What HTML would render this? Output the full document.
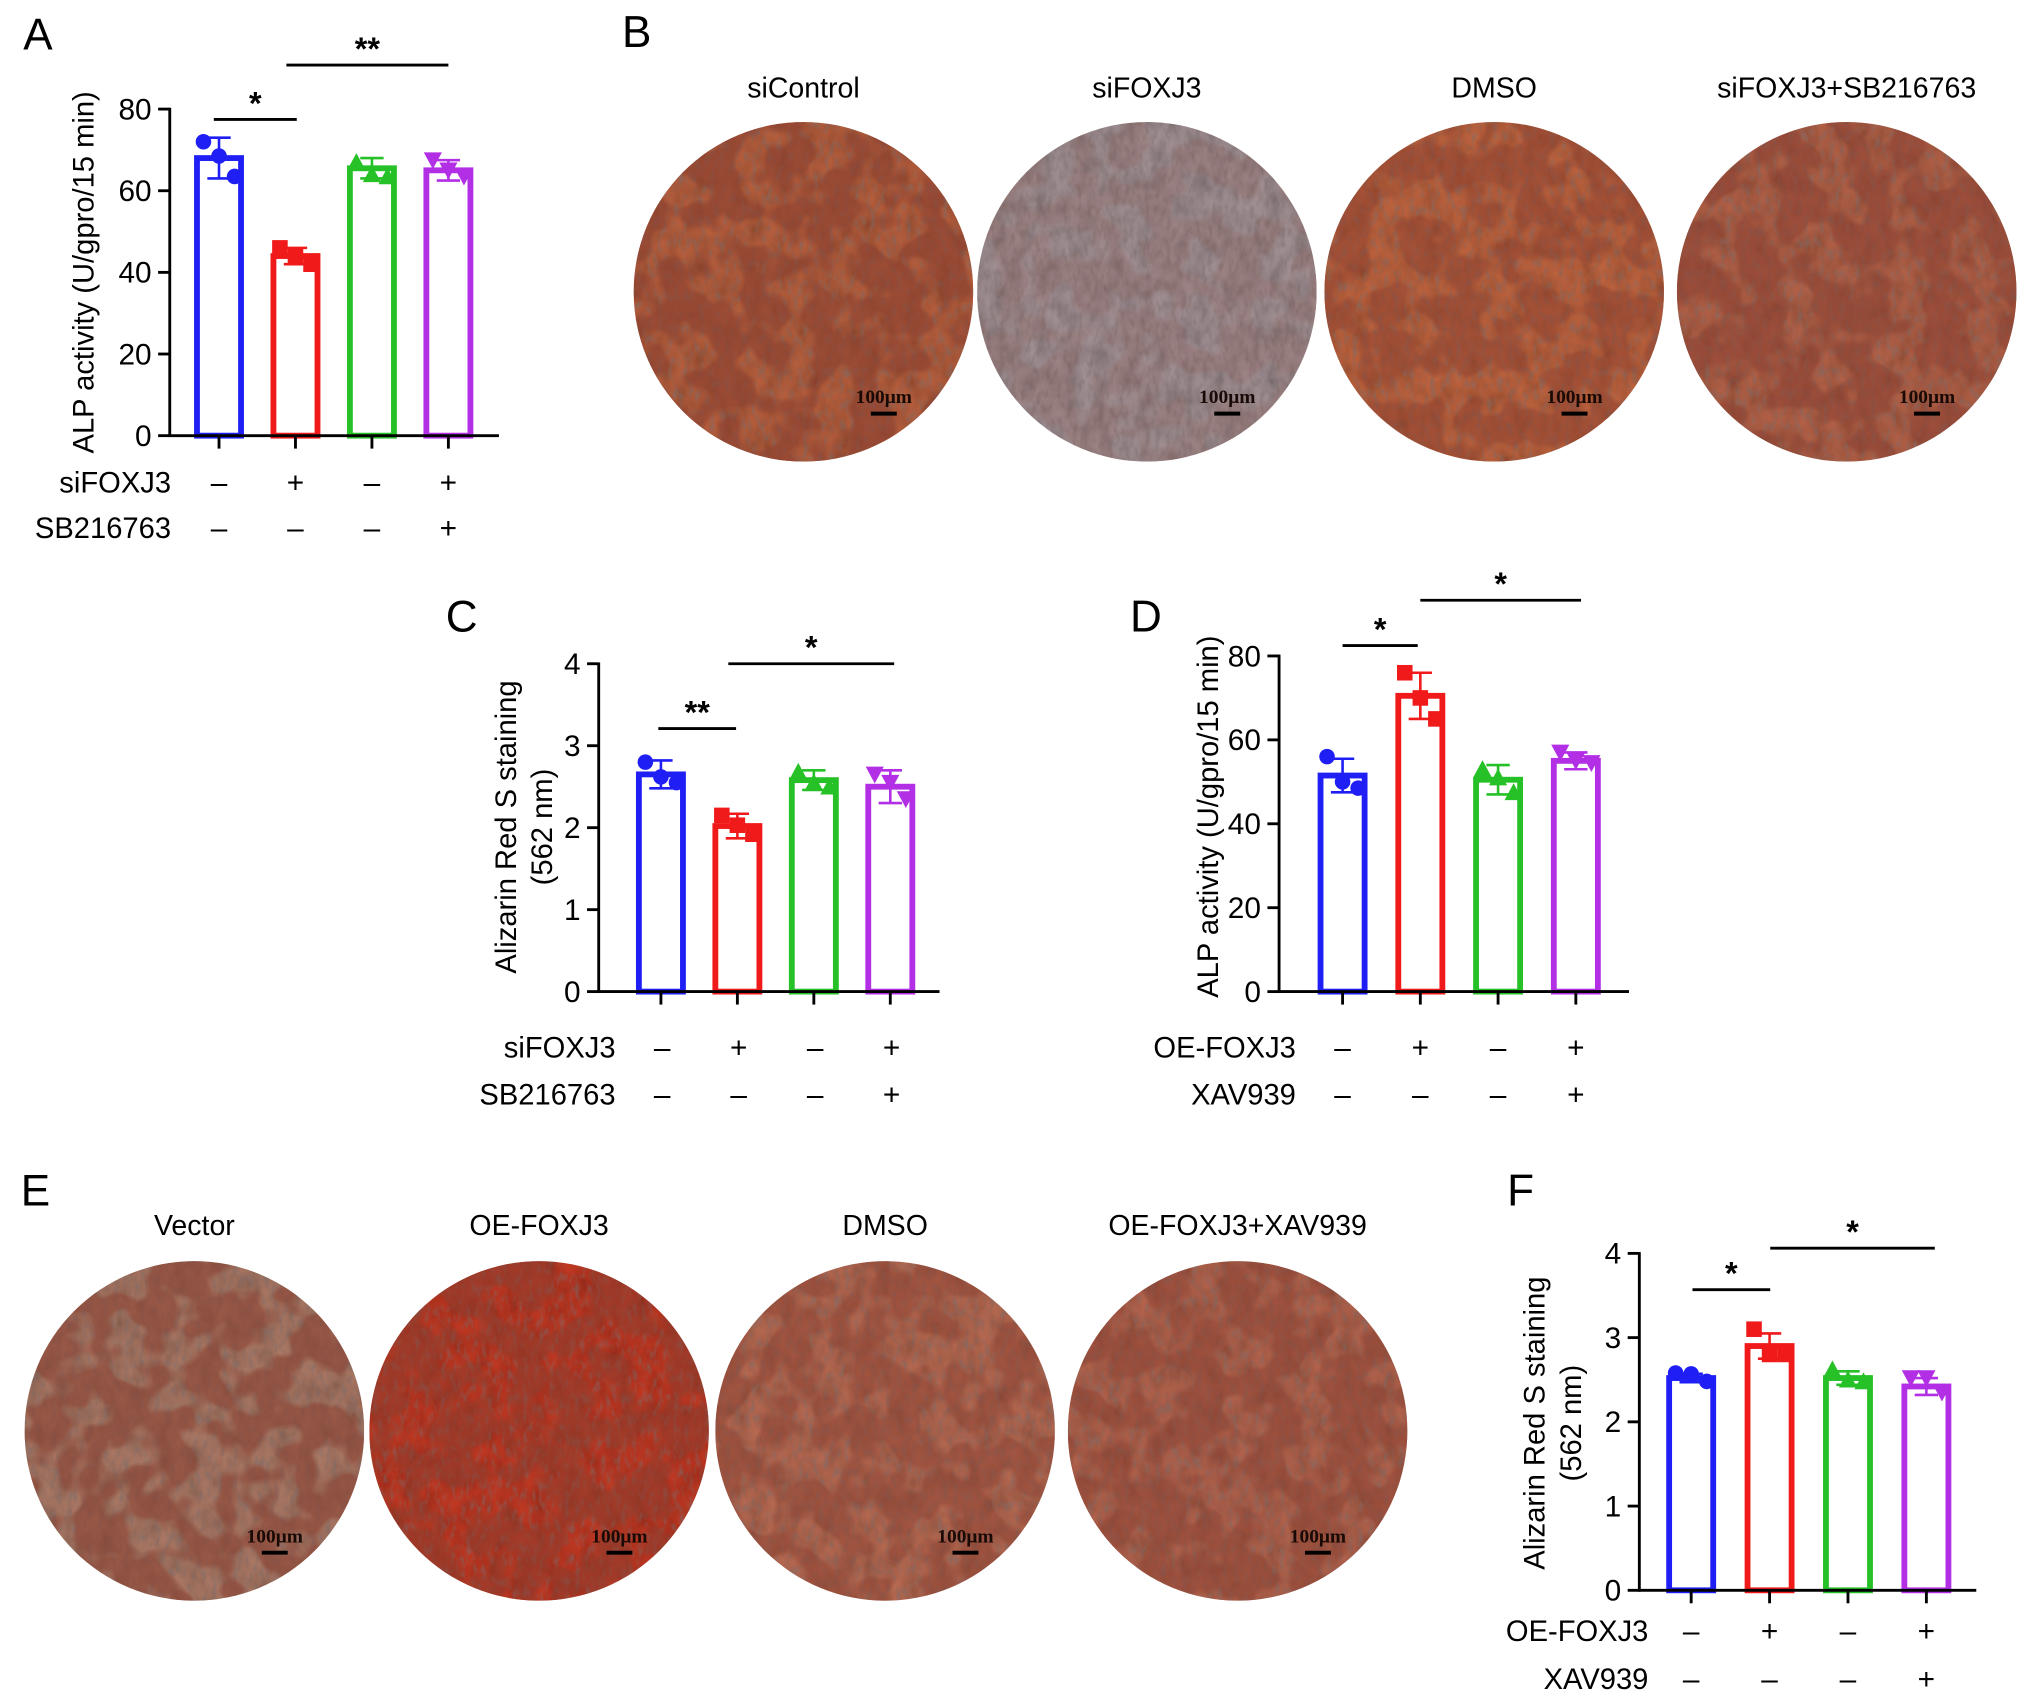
<!DOCTYPE html>
<html><head><meta charset="utf-8"><style>
html,body{margin:0;padding:0;background:#fff;}
svg{display:block;font-family:"Liberation Sans",Arial,sans-serif;}
</style></head><body>
<svg id="fig" width="2032" height="1702" viewBox="0 0 1568 1313" xmlns="http://www.w3.org/2000/svg">
<defs>
<filter id="tex" x="0" y="0" width="100%" height="100%">
<feTurbulence type="fractalNoise" baseFrequency="0.09 0.06" numOctaves="3" seed="3"/>
<feColorMatrix type="matrix" values="0 0 0 0.9 0  0 0 0 0.9 0  0 0 0 0.9 0  0 0 0 0 1"/>
<feComposite in2="SourceGraphic" operator="arithmetic" k1="1.2" k2="0" k3="0" k4="0"/>
</filter>
<filter id="spots" x="0" y="0" width="100%" height="100%">
<feTurbulence type="fractalNoise" baseFrequency="0.035" numOctaves="2" seed="9"/>
<feColorMatrix type="matrix" values="0 0 0 0 0.25  0 0 0 0 0.05  0 0 0 0 0.03  0 0 0 -9 5.2"/>
</filter>
<filter id="fine" x="0" y="0" width="100%" height="100%">
<feTurbulence type="fractalNoise" baseFrequency="0.25 0.12" numOctaves="2" seed="5"/>
<feColorMatrix type="matrix" values="0 0 0 0 0.2  0 0 0 0 0.15  0 0 0 0 0.15  0 0 0 -3 1.6"/>
</filter>
</defs>
<g id="micro"></g>
<g id="charts"></g>
</svg>
<script>
// ---- Chart data ----
const groups = ["g1","g2","g3","g4"];
const colors = ["#1f1ff5","#f01a1a","#26c027","#b22fe6"];
const shapes = ["circle","square","tri-up","tri-down"];

const aMeans = [68,44,65.5,65];
const aSD = [5,2,2.5,2.5];
const aPoints = [[72,68.5,63.5],[46,44,42],[67,64,63.5],[67.5,65,63.5]];
const aTicks = [0,20,40,60,80];

const cMeans = [2.65,2.02,2.58,2.5];
const cSD = [0.17,0.15,0.12,0.2];
const cPoints = [[2.8,2.62,2.55],[2.15,2.03,1.92],[2.68,2.55,2.5],[2.65,2.55,2.35]];
const cTicks = [0,1,2,3,4];

const dMeans = [51.5,70.5,50.5,55];
const dSD = [4,5.5,3.5,2];
const dPoints = [[56,50,48.5],[76,70,65],[53,51,47.5],[57,55,54.5]];
const dTicks = [0,20,40,60,80];

const fMeans = [2.52,2.9,2.52,2.42];
const fSD = [0.05,0.15,0.08,0.1];
const fPoints = [[2.58,2.57,2.48],[3.1,2.8,2.8],[2.62,2.5,2.48],[2.52,2.52,2.35]];
const fTicks = [0,1,2,3,4];

const NS="http://www.w3.org/2000/svg";
const charts=document.getElementById('charts');
function mk(tag,attrs,parent,text){const e=document.createElementNS(NS,tag);for(const k in attrs)e.setAttribute(k,attrs[k]);if(text!==undefined)e.textContent=text;(parent||charts).appendChild(e);return e;}

function chart(cfg){
  const g=mk('g',{});
  
  
  const y=v=>cfg.y0-(v-cfg.ymin)/(cfg.ymax-cfg.ymin)*(cfg.y0-cfg.y1);
  const x=i=>cfg.cx0+i*cfg.step;
  cfg.means.forEach((m,i)=>{
    const r=mk('rect',{x:x(i)-cfg.bw/2,y:y(m),width:cfg.bw,height:cfg.y0-y(m),fill:'#fff',stroke:colors[i],'stroke-width':4.5},g);
    
    
  });
  cfg.means.forEach((m,i)=>{
    const e=mk('g',{stroke:colors[i],'stroke-width':2},g);
    
    
    mk('line',{x1:x(i),x2:x(i),y1:y(m-cfg.sd[i]),y2:y(m+cfg.sd[i])},e);
    mk('line',{x1:x(i)-9,x2:x(i)+9,y1:y(m+cfg.sd[i]),y2:y(m+cfg.sd[i])},e);
    mk('line',{x1:x(i)-9,x2:x(i)+9,y1:y(m-cfg.sd[i]),y2:y(m-cfg.sd[i])},e);
  });
  cfg.points.forEach((arr,i)=>{
    arr.forEach((v,j)=>{
      const px=x(i)+(j-1)*12, py=y(v), s=6, c=colors[i];
      let p;
      if(shapes[i]==='circle') p=mk('circle',{cx:px,cy:py,r:s,fill:c},g);
      else if(shapes[i]==='square') p=mk('rect',{x:px-s,y:py-s,width:2*s,height:2*s,fill:c},g);
      else if(shapes[i]==='tri-up') p=mk('polygon',{points:`${px},${py-s-1} ${px-s-1},${py+s} ${px+s+1},${py+s}`,fill:c},g);
      else p=mk('polygon',{points:`${px},${py+s+1} ${px-s-1},${py-s} ${px+s+1},${py-s}`,fill:c},g);
      
      
    });
  });
  const ax=mk('g',{stroke:'#000','stroke-width':2.2},g);
  
  
  mk('line',{x1:cfg.ax,x2:cfg.ax,y1:y(cfg.ymax)-1,y2:cfg.y0+1},ax);
  mk('line',{x1:cfg.ax-1,x2:cfg.xend,y1:cfg.y0,y2:cfg.y0},ax);
  cfg.ticks.forEach(t=>{
    mk('line',{x1:cfg.ax-9,x2:cfg.ax,y1:y(t),y2:y(t)},ax);
    const tl=mk('text',{x:cfg.ax-14,y:y(t)+8,'text-anchor':'end','font-size':23},g,String(t));
    
    
  });
  cfg.means.forEach((m,i)=>mk('line',{x1:x(i),x2:x(i),y1:cfg.y0,y2:cfg.y0+10},ax));
  const tg=mk('g',{transform:`translate(${cfg.tx},${cfg.ty}) rotate(-90)`},g);
  cfg.title.forEach((t,k)=>{
    const tt=mk('text',{x:0,y:k*28,'text-anchor':'middle','font-size':22.5},tg,t);
    
    
  });
  cfg.rows.forEach((row,k)=>{
    const ry=cfg.rowY[k];
    const rl=mk('text',{x:cfg.rowLabelX,y:ry+8,'text-anchor':'end','font-size':22.5},g,row.label);
    
    
    row.signs.forEach((s,i)=>{
      const st=mk('text',{x:x(i)+cfg.signDx,y:ry+8,'text-anchor':'middle','font-size':23},g,s==='+'?'+':'\u2013');
      
      
    });
  });
  cfg.sig.forEach(s=>{
    const sg=mk('g',{},g);
    
    
    mk('line',{x1:s.x1,x2:s.x2,y1:s.y,y2:s.y,stroke:'#000','stroke-width':2.2},sg);
    mk('text',{x:(s.x1+s.x2)/2,y:s.y-4,'text-anchor':'middle','font-size':25,'font-weight':'bold'},sg,s.t);
  });
}

chart({name:'chart-a',means:aMeans,sd:aSD,points:aPoints,ticks:aTicks,ymin:0,ymax:80,y0:336,y1:84,ax:131,xend:385,cx0:169,step:59,bw:34,
  tx:72,ty:210,title:['ALP activity (U/gpro/15 min)'],rowLabelX:132,rowY:[372,407],signDx:0,
  rows:[{label:'siFOXJ3',signs:['-','+','-','+']},{label:'SB216763',signs:['-','-','-','+']}],
  sig:[{x1:165,x2:229,y:92,t:'*'},{x1:221,x2:346,y:50,t:'**'}]});
chart({name:'chart-c',means:cMeans,sd:cSD,points:cPoints,ticks:cTicks,ymin:0,ymax:4,y0:765,y1:512,ax:462,xend:725,cx0:510,step:59,bw:34,
  tx:398,ty:638,title:['Alizarin Red S staining','(562 nm)'],rowLabelX:475,rowY:[808,844],signDx:1,
  rows:[{label:'siFOXJ3',signs:['-','+','-','+']},{label:'SB216763',signs:['-','-','-','+']}],
  sig:[{x1:508,x2:568,y:562,t:'**'},{x1:562,x2:690,y:512,t:'*'}]});
chart({name:'chart-d',means:dMeans,sd:dSD,points:dPoints,ticks:dTicks,ymin:0,ymax:80,y0:765,y1:506,ax:987,xend:1257,cx0:1036,step:60,bw:34,
  tx:940,ty:630,title:['ALP activity (U/gpro/15 min)'],rowLabelX:1000,rowY:[808,844],signDx:0,
  rows:[{label:'OE-FOXJ3',signs:['-','+','-','+']},{label:'XAV939',signs:['-','-','-','+']}],
  sig:[{x1:1036,x2:1094,y:498,t:'*'},{x1:1096,x2:1220,y:463,t:'*'}]});
chart({name:'chart-f',means:fMeans,sd:fSD,points:fPoints,ticks:fTicks,ymin:0,ymax:4,y0:1227,y1:967,ax:1265,xend:1525,cx0:1305,step:60.5,bw:34,
  tx:1192,ty:1098,title:['Alizarin Red S staining','(562 nm)'],rowLabelX:1272,rowY:[1258,1295],signDx:0,
  rows:[{label:'OE-FOXJ3',signs:['-','+','-','+']},{label:'XAV939',signs:['-','-','-','+']}],
  sig:[{x1:1306,x2:1366,y:995,t:'*'},{x1:1366,x2:1493,y:963,t:'*'}]});

[['A',18,38],['B',480,36],['C',344,487],['D',872,487],['E',16,930],['F',1163,930]].forEach(p=>{
  const t=mk('text',{x:p[1],y:p[2],'font-size':34},charts,p[0]);
  
  
});

const micro=document.getElementById('micro');
const mics=[
 {n:'siControl',cx:620,cy:225,lab:'siControl',ly:75,col:'#b8603e',sp:0.55},
 {n:'siFOXJ3',cx:885,cy:225,lab:'siFOXJ3',ly:75,col:'#a49296',sp:0.15},
 {n:'DMSO',cx:1153,cy:225,lab:'DMSO',ly:75,col:'#c0643f',sp:0.45},
 {n:'siFOXJ3-SB216763',cx:1425,cy:225,lab:'siFOXJ3+SB216763',ly:75,col:'#b46248',sp:0.5},
 {n:'Vector',cx:150,cy:1104,lab:'Vector',ly:953,col:'#ad7a66',sp:0.55},
 {n:'OE-FOXJ3',cx:416,cy:1104,lab:'OE-FOXJ3',ly:953,col:'#c23a24',sp:0.5},
 {n:'DMSO-e',cx:683,cy:1104,lab:'DMSO',ly:953,col:'#b86a52',sp:0.45},
 {n:'OE-FOXJ3-XAV939',cx:955,cy:1104,lab:'OE-FOXJ3+XAV939',ly:953,col:'#b4644e',sp:0.45}];
mics.forEach((m,i)=>{
  const g=mk('g',{},micro);
  
  
  mk('clipPath',{id:'cp'+i},g);
  mk('circle',{cx:m.cx,cy:m.cy,r:131},g.lastChild);
  const cg=mk('g',{'clip-path':`url(#cp${i})`},g);
  mk('rect',{x:m.cx-131,y:m.cy-131,width:262,height:262,fill:m.col},cg);
  mk('rect',{x:m.cx-131,y:m.cy-131,width:262,height:262,fill:m.col,filter:'url(#tex)',opacity:0.35},cg);
  mk('rect',{x:m.cx-131,y:m.cy-131,width:262,height:262,filter:'url(#fine)',opacity:0.5},cg);
  mk('rect',{x:m.cx-131,y:m.cy-131,width:262,height:262,filter:'url(#spots)',opacity:m.sp},cg);
  const sb=mk('g',{},g);
  
  
  mk('text',{x:m.cx+62,y:m.cy+86,'text-anchor':'middle','font-size':15,'font-weight':'bold','font-family':'Liberation Serif, serif',fill:'#1a0a05'},sb,'100\u03bcm');
  mk('line',{x1:m.cx+52,x2:m.cx+72,y1:m.cy+94,y2:m.cy+94,stroke:'#000','stroke-width':3},sb);
  const t=mk('text',{x:m.cx,y:m.ly,'text-anchor':'middle','font-size':22},micro,m.lab);
  
  
});
</script>
</body></html>
